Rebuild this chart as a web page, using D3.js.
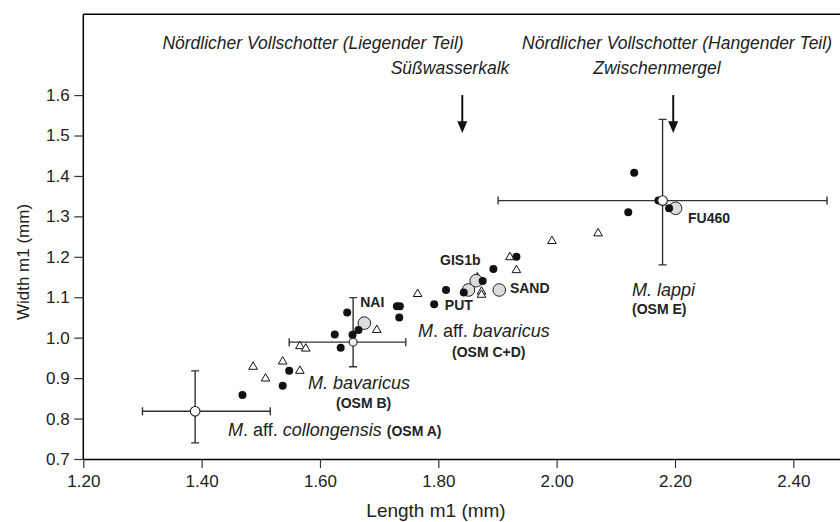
<!DOCTYPE html>
<html>
<head>
<meta charset="utf-8">
<script src="https://cdn.jsdelivr.net/npm/d3@7"></script>
<style>
  body { margin: 0; background: #fff; }
  svg { display: block; font-family: "Liberation Sans", Arial, sans-serif; }
</style>
</head>
<body>
<div id="chart"></div>
<script>
// specimen measurements, length / width of m1 (mm)
const filledLength = [1.469, 1.537, 1.548, 1.635, 1.625, 1.646, 1.655, 1.665, 1.730, 1.735, 1.734,
  1.793, 1.813, 1.843, 1.875, 1.893, 1.932, 2.121, 2.131, 2.172, 2.190];
const filledWidth = [0.858, 0.881, 0.918, 0.975, 1.008, 1.062, 1.007, 1.019, 1.078, 1.078, 1.050,
  1.083, 1.118, 1.112, 1.140, 1.170, 1.200, 1.310, 1.408, 1.339, 1.320];

const triLength = [1.487, 1.508, 1.537, 1.566, 1.566, 1.576, 1.696, 1.765, 1.866, 1.873, 1.873,
  1.921, 1.932, 1.992, 2.070];
const triWidth = [0.928, 0.899, 0.941, 0.918, 0.979, 0.973, 1.019, 1.108, 1.149, 1.114, 1.106,
  1.199, 1.167, 1.239, 1.258];

const greyLength = [1.675, 1.851, 1.864, 1.903, 2.201];
const greyWidth = [1.036, 1.118, 1.141, 1.118, 1.320];

// population means with ranges
const meanNames = ["OSM A", "OSM B", "OSM E"];
const meanLength = [1.389, 1.656, 2.179];
const meanWidth = [0.818, 0.989, 1.339];
const lengthMin = [1.300, 1.548, 1.901];
const lengthMax = [1.516, 1.745, 2.457];
const widthMin = [0.740, 0.928, 1.180];
const widthMax = [0.918, 1.099, 1.540];
const meanFill = ["#fff", "#eee", "#fff"];

const sampleLabels = ["NAI", "PUT", "GIS1b", "SAND", "FU460"];
const sampleLabelX = [1.668, 1.811, 1.803, 1.921, 2.222];
const sampleLabelY = [1.077, 1.069, 1.180, 1.111, 1.284];

const arrowX = [1.8405, 2.197];
const xTicks = [1.2, 1.4, 1.6, 1.8, 2.0, 2.2, 2.4];
const yTicks = [0.7, 0.8, 0.9, 1.0, 1.1, 1.2, 1.3, 1.4, 1.5, 1.6];

const width = 840, height = 522;
const margin = { top: 14.2, left: 83.3, bottom: 63 };

const svg = d3.select("#chart").append("svg")
  .attr("width", width)
  .attr("height", height);

const x = d3.scaleLinear()
  .domain([1.2, 2.5])
  .range([margin.left, margin.left + 1.3 * 591.7]);

const y = d3.scaleLinear()
  .domain([0.7, 1.8])
  .range([height - margin.bottom, margin.top]);

// frame top
svg.append("line")
  .attr("x1", x(1.2)).attr("x2", x(2.5))
  .attr("y1", y(1.8)).attr("y2", y(1.8))
  .attr("stroke", "#000").attr("stroke-width", 1.5);

const xAxis = svg.append("g")
  .attr("transform", `translate(0,${y(0.7)})`)
  .call(d3.axisBottom(x).tickValues(xTicks).tickFormat(d3.format(".2f")).tickSize(9).tickSizeOuter(0));

const yAxis = svg.append("g")
  .attr("transform", `translate(${x(1.2)},0)`)
  .call(d3.axisLeft(y).tickValues(yTicks).tickFormat(d3.format(".1f")).tickSize(9).tickSizeOuter(0));

[xAxis, yAxis].forEach(a => {
  a.select(".domain").attr("stroke", "#000").attr("stroke-width", 1.5);
  a.selectAll(".tick line").attr("stroke", "#333").attr("stroke-width", 1.2);
  a.selectAll(".tick text").attr("font-size", 17).attr("fill", "#222")
    .attr("font-family", "Liberation Sans, Arial, sans-serif");
});
xAxis.selectAll(".tick text").attr("dy", "0.95em");
yAxis.selectAll(".tick text").attr("dx", "-0.1em");
yAxis.select(".domain").attr("d", `M0,${y(1.8)}V${y(0.7)}`);

svg.append("text")
  .attr("x", 436).attr("y", 517)
  .attr("text-anchor", "middle")
  .attr("font-size", 19).attr("fill", "#222")
  .text("Length m1 (mm)");

svg.append("text")
  .attr("transform", "translate(29,262) rotate(-90)")
  .attr("text-anchor", "middle")
  .attr("font-size", 17).attr("fill", "#222")
  .text("Width m1 (mm)");

// stratigraphic annotations
const topText = [
  { t: "Nördlicher Vollschotter (Liegender Teil)", x: 313, y: 49 },
  { t: "Süßwasserkalk", x: 450, y: 74 },
  { t: "Nördlicher Vollschotter (Hangender Teil)", x: 677, y: 49 },
  { t: "Zwischenmergel", x: 657, y: 74 }
];
svg.append("g").selectAll("text")
  .data(topText)
  .join("text")
  .attr("x", d => d.x).attr("y", d => d.y)
  .attr("text-anchor", "middle")
  .attr("font-size", 17.5).attr("font-style", "italic").attr("fill", "#222")
  .text(d => d.t);

const arrows = svg.append("g").selectAll("g")
  .data(arrowX)
  .join("g");
arrows.append("line")
  .attr("x1", d => x(d)).attr("x2", d => x(d))
  .attr("y1", y(1.6)).attr("y2", y(1.53))
  .attr("stroke", "#111").attr("stroke-width", 2);
arrows.append("path")
  .attr("d", d => `M${x(d) - 5},${y(1.535)}L${x(d) + 5},${y(1.535)}L${x(d)},${y(1.506)}Z`)
  .attr("fill", "#111");

// error bars
const cap = 4;
const eb = svg.append("g").attr("stroke", "#333").attr("stroke-width", 1.4).attr("fill", "none");
meanNames.forEach((n, i) => {
  const cx = x(meanLength[i]), cy = y(meanWidth[i]);
  const x0 = x(lengthMin[i]), x1 = x(lengthMax[i]);
  const y0 = y(widthMin[i]), y1 = y(widthMax[i]);
  eb.append("path").attr("d",
    `M${x0},${cy}H${x1}M${x0},${cy - cap}V${cy + cap}M${x1},${cy - cap}V${cy + cap}` +
    `M${cx},${y0}V${y1}M${cx - cap},${y0}H${cx + cap}M${cx - cap},${y1}H${cx + cap}`);
});

// triangles
const tri = d3.symbol().type(d3.symbolTriangle).size(32);
svg.append("g").selectAll("path")
  .data(triLength.map((d, i) => [d, triWidth[i]]))
  .join("path")
  .attr("transform", d => `translate(${x(d[0])},${y(d[1])})`)
  .attr("d", tri)
  .attr("fill", "#fff").attr("stroke", "#111").attr("stroke-width", 1);

// large grey circles
svg.append("g").selectAll("circle")
  .data(greyLength.map((d, i) => [d, greyWidth[i]]))
  .join("circle")
  .attr("cx", d => x(d[0])).attr("cy", d => y(d[1]))
  .attr("r", 6.3)
  .attr("fill", "#dcdcdc").attr("stroke", "#222").attr("stroke-width", 1);

// filled circles
svg.append("g").selectAll("circle")
  .data(filledLength.map((d, i) => [d, filledWidth[i]]))
  .join("circle")
  .attr("cx", d => x(d[0])).attr("cy", d => y(d[1]))
  .attr("r", 4)
  .attr("fill", "#111");

// means
svg.append("g").selectAll("circle")
  .data(meanNames)
  .join("circle")
  .attr("cx", (d, i) => x(meanLength[i])).attr("cy", (d, i) => y(meanWidth[i]))
  .attr("r", (d, i) => i === 1 ? 4 : 4.8)
  .attr("fill", (d, i) => meanFill[i])
  .attr("stroke", "#222").attr("stroke-width", 1.1);

// sample labels
svg.append("g").selectAll("text")
  .data(sampleLabels)
  .join("text")
  .attr("x", (d, i) => x(sampleLabelX[i]))
  .attr("y", (d, i) => y(sampleLabelY[i]))
  .attr("font-size", 14).attr("font-weight", "bold").attr("fill", "#222")
  .text(d => d);

// species labels
function species(xp, yp, parts) {
  const t = svg.append("text").attr("x", xp).attr("y", yp)
    .attr("font-size", 18).attr("fill", "#222");
  parts.forEach(p => {
    const s = t.append("tspan").text(p[0]);
    if (p[1] === "i") s.attr("font-style", "italic");
    if (p[1] === "b") s.attr("font-weight", "bold").attr("font-size", 14);
  });
}
species(228, 436, [["M", "i"], [". aff. ", ""], ["collongensis", "i"], [" ", ""], ["(OSM A)", "b"]]);
species(308, 389, [["M. bavaricus", "i"]]);
species(336, 408, [["(OSM B)", "b"]]);
species(418, 337, [["M", "i"], [". aff. ", ""], ["bavaricus", "i"]]);
species(452, 357, [["(OSM C+D)", "b"]]);
species(632, 296, [["M. lappi", "i"]]);
species(632, 314, [["(OSM E)", "b"]]);
</script>
</body>
</html>
